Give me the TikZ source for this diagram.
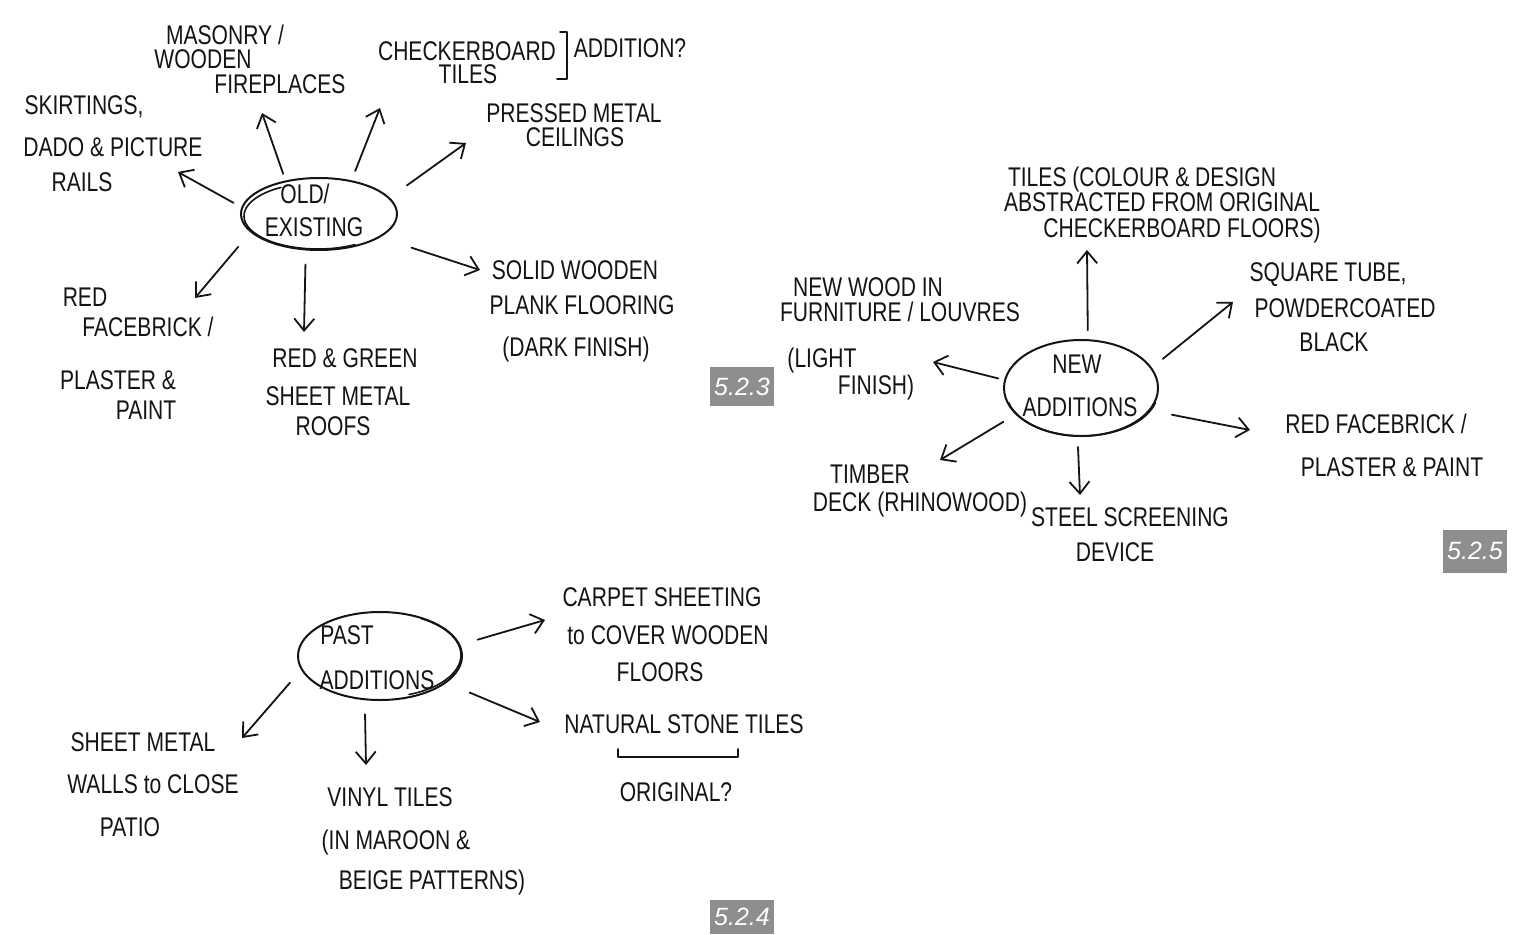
\documentclass[tikz,border=0pt]{standalone}
\usepackage{fontspec}
\setmainfont{Liberation Sans}
\newfontfamily\handfont[FakeStretch=0.78]{Liberation Sans}
\usetikzlibrary{shapes.geometric,arrows.meta}
\definecolor{tagGray}{RGB}{142,142,142}
\definecolor{ink}{RGB}{20,20,20}
\tikzset{
  hand/.style={font=\handfont\fontsize{27}{32}\selectfont, anchor=base, inner sep=0pt, text=ink},
  bubble/.style={draw=ink, ellipse, line width=2pt, inner sep=0pt},
  stroke/.style={draw=ink, line width=1.6pt, line cap=round, line join=round},
  arr/.style={draw=ink, line width=1.8pt, line cap=round, -{Straight Barb[length=12pt,width=20pt]}},
  tagbox/.style={fill=tagGray, text=white, font=\itshape\fontsize{25}{30}\selectfont, inner sep=0pt}
}
\begin{document}
\begin{tikzpicture}[x=1pt,y=-1pt]
\fill[white] (0,0) rectangle (1517,934);
\useasboundingbox (0,0) rectangle (1517,934);

% ================= cluster 5.2.3 : OLD / EXISTING =================
\node[bubble, minimum width=156, minimum height=72] (old) at (319,214) {};
\draw[stroke] ([shift={(-120:74 and 33)}]318,216) arc[start angle=-120, end angle=-300, x radius=74, y radius=33];
\node[hand] (o1) at (305,203) {OLD/};
\node[hand] (o2) at (314,236) {EXISTING};

\node[hand] (m1) at (225,45) {MASONRY /};
\node[hand] (m2) at (203,69) {WOODEN};
\node[hand] (m3) at (280,93) {FIREPLACES};

\node[hand] (s1) at (84,114) {SKIRTINGS,};
\node[hand] (s2) at (113,156) {DADO \& PICTURE};
\node[hand] (s3) at (82,191) {RAILS};

\node[hand] (c1) at (467,60) {CHECKERBOARD};
\node[hand] (c2) at (468,84) {TILES};
\draw[stroke] (560,32) -- (567,32) -- (567,79) -- (557,79);
\node[hand] (c3) at (630,57) {ADDITION?};

\node[hand] (p1) at (574,122) {PRESSED METAL};
\node[hand] (p2) at (575,146) {CEILINGS};

\node[hand] (w1) at (575,279) {SOLID WOODEN};
\node[hand] (w2) at (582,314) {PLANK FLOORING};
\node[hand] (w3) at (576,356) {(DARK FINISH)};

\node[hand] (r1) at (345,367) {RED \& GREEN};
\node[hand] (r2) at (338,405) {SHEET METAL};
\node[hand] (r3) at (333,435) {ROOFS};

\node[hand] (f1) at (85,306) {RED};
\node[hand] (f2) at (148,336) {FACEBRICK /};
\node[hand] (f3) at (118,389) {PLASTER \&};
\node[hand] (f4) at (146,419) {PAINT};

\coordinate (tSkirt) at (178,172);
\coordinate (tMason) at (262,113);
\coordinate (tCheck) at (380,108);
\coordinate (tPress) at (466,143);
\coordinate (tSolid) at (480,270);
\coordinate (tRoofs) at (304,332);
\coordinate (tFace)  at (195,298);
\draw[arr, shorten <=9pt]  (old.175) -- (tSkirt);
\draw[arr, shorten <=7pt]  (old.135) -- (tMason);
\draw[arr, shorten <=10pt] (old.46)  -- (tCheck);
\draw[arr, shorten <=21pt] (old.13)  -- (tPress);
\draw[arr, shorten <=33pt] (old.339) -- (tSolid);
\draw[arr, shorten <=14pt] (old.250) -- (tRoofs);
\draw[arr, shorten <=19pt] (old.195) -- (tFace);

\node[tagbox, minimum width=64, minimum height=39] (tag523) at (742,386.5) {5.2.3};

% ================= cluster 5.2.5 : NEW ADDITIONS =================
\node[bubble, minimum width=154, minimum height=96] (new) at (1081,388) {};
\draw[stroke] ([shift={(-195:76 and 45)}]1082,391) arc[start angle=-195, end angle=-345, x radius=76, y radius=45];
\node[hand] (a1) at (1077,373) {NEW};
\node[hand] (a2) at (1080,416) {ADDITIONS};

\node[hand] (t1) at (1142,186) {TILES (COLOUR \& DESIGN};
\node[hand] (t2) at (1162,211) {ABSTRACTED FROM ORIGINAL};
\node[hand] (t3) at (1182,237) {CHECKERBOARD FLOORS)};

\node[hand] (q1) at (1328,281) {SQUARE TUBE,};
\node[hand] (q2) at (1345,317) {POWDERCOATED};
\node[hand] (q3) at (1334,351) {BLACK};

\node[hand] (n1) at (868,296) {NEW WOOD IN};
\node[hand] (n2) at (900,321) {FURNITURE / LOUVRES};
\node[hand] (n3) at (822,367) {(LIGHT};
\node[hand] (n4) at (876,394) {FINISH)};

\node[hand] (b1) at (1376,433) {RED FACEBRICK /};
\node[hand] (b2) at (1392,476) {PLASTER \& PAINT};

\node[hand] (d1) at (870,483) {TIMBER};
\node[hand] (d2) at (920,511) {DECK (RHINOWOOD)};

\node[hand] (e1) at (1130,526) {STEEL SCREENING};
\node[hand] (e2) at (1115,561) {DEVICE};

\coordinate (tTiles)  at (1087,250);
\coordinate (tSquare) at (1233,302);
\coordinate (tWood)   at (933,362);
\coordinate (tRed)    at (1250,430);
\coordinate (tTimber) at (940,460);
\coordinate (tSteel)  at (1080,495);
\draw[arr, shorten <=9pt]  (new.82)  -- (tTiles);
\draw[arr, shorten <=14pt] (new.16)  -- (tSquare);
\draw[arr, shorten <=6pt]  (new.174) -- (tWood);
\draw[arr, shorten <=22pt] (new.342) -- (tRed);
\draw[arr, shorten <=14pt] (new.202) -- (tTimber);
\draw[arr, shorten <=10pt] (new.266) -- (tSteel);

\node[tagbox, minimum width=64, minimum height=43] (tag525) at (1475,551) {5.2.5};

% ================= cluster 5.2.4 : PAST ADDITIONS =================
\node[bubble, minimum width=164, minimum height=88] (past) at (380,656) {};
\draw[stroke] ([shift={(70:79 and 42)}]382,655) arc[start angle=70, end angle=-60, x radius=79, y radius=42];
\node[hand] (g1) at (347,644) {PAST};
\node[hand] (g2) at (377,689) {ADDITIONS};

\node[hand] (h1) at (662,606) {CARPET SHEETING};
\node[hand] (h2) at (668,644) {to COVER WOODEN};
\node[hand] (h3) at (660,681) {FLOORS};

\node[hand] (k1) at (684,733) {NATURAL STONE TILES};
\draw[stroke] (618,749) -- (618,757) -- (738,757) -- (738,749);
\node[hand] (k2) at (676,801) {ORIGINAL?};

\node[hand] (j1) at (143,751) {SHEET METAL};
\node[hand] (j2) at (153,793) {WALLS to CLOSE};
\node[hand] (j3) at (130,836) {PATIO};

\node[hand] (v1) at (390,806) {VINYL TILES};
\node[hand] (v2) at (396,849) {(IN MAROON \&};
\node[hand] (v3) at (432,889) {BEIGE PATTERNS)};

\coordinate (tCarpet)  at (545,620);
\coordinate (tNatural) at (540,722);
\coordinate (tVinyl)   at (366,765);
\coordinate (tSheet)   at (242,738);
\draw[arr, shorten <=18pt] (past.8)   -- (tCarpet);
\draw[arr, shorten <=25pt] (past.338) -- (tNatural);
\draw[arr, shorten <=14pt] (past.251) -- (tVinyl);
\draw[arr, shorten <=17pt] (past.190) -- (tSheet);

\node[tagbox, minimum width=64, minimum height=34] (tag524) at (742,917) {5.2.4};
\end{tikzpicture}
\end{document}
